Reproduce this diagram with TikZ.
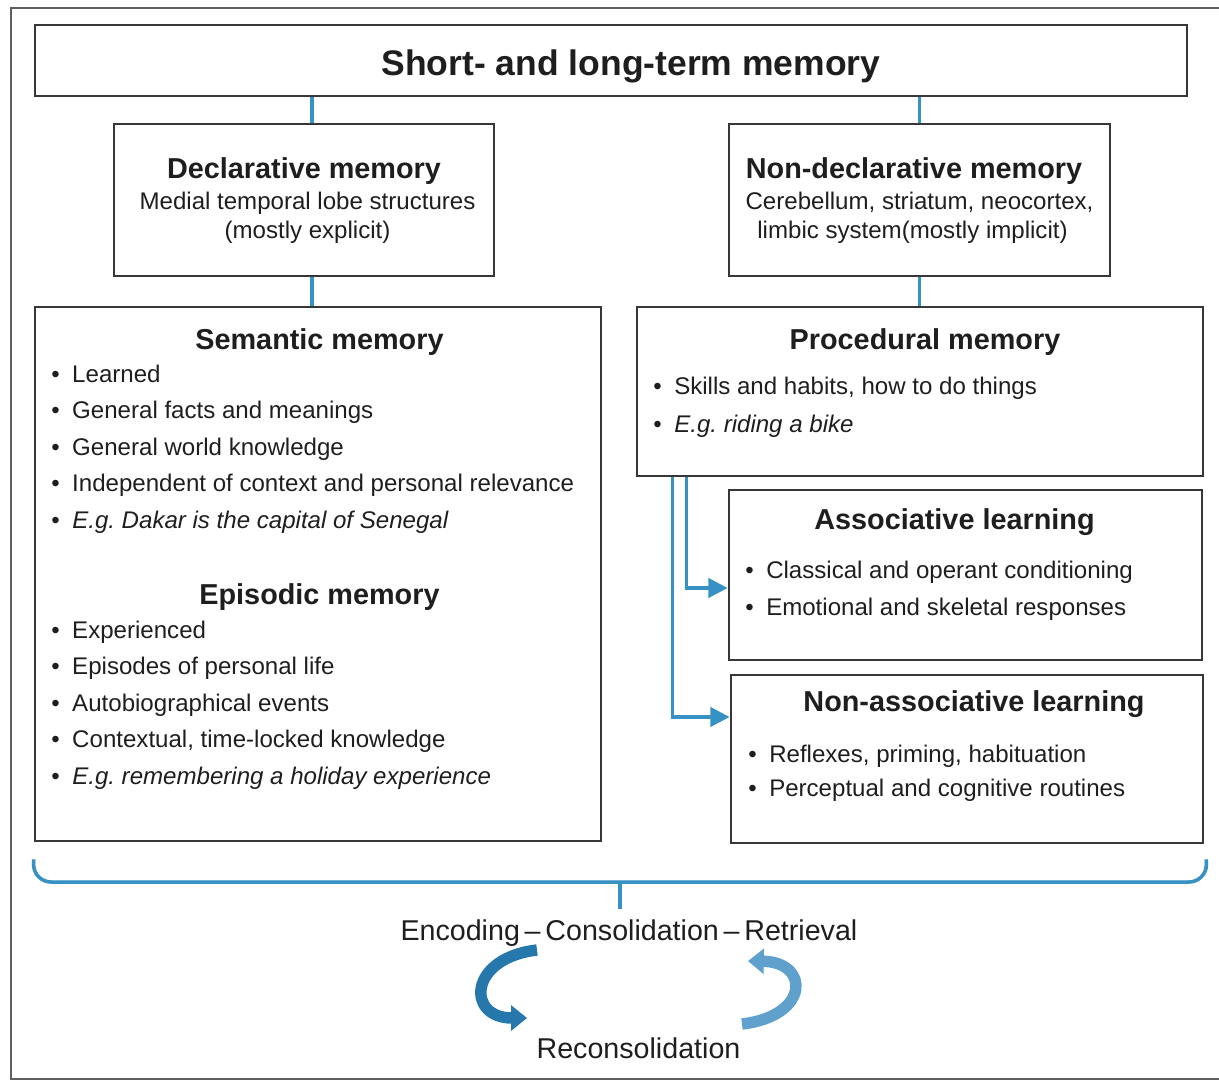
\documentclass[tikz,border=0pt]{standalone}
\usepackage{fontspec}
\setmainfont{Liberation Sans}
\usetikzlibrary{arrows.meta,calc,fit,positioning}

\definecolor{linkblue}{RGB}{54,146,196}
\definecolor{darkblue}{RGB}{38,120,172}
\definecolor{lightblue}{RGB}{96,160,205}
\definecolor{boxgray}{RGB}{55,55,55}
\definecolor{txt}{RGB}{30,30,30}

\newcommand\bul{\makebox[11.9pt][l]{\textbullet}}

\tikzset{
  box/.style={draw=boxgray, line width=1.6pt, inner sep=0pt},
  ttl/.style={anchor=base, inner sep=0pt, font=\bfseries\fontsize{20.2}{24}\selectfont},
  hd/.style={anchor=base, inner sep=0pt, font=\bfseries\fontsize{16.4}{20}\selectfont},
  bd/.style={anchor=base, inner sep=0pt, font=\fontsize{13.7}{16}\selectfont},
  itm/.style={anchor=base west, inner sep=0pt, font=\fontsize{13.7}{16}\selectfont},
  big/.style={anchor=base, inner sep=0pt, font=\fontsize{16.3}{20}\selectfont},
  link/.style={draw=linkblue, line width=2pt},
  flow/.style={draw=linkblue, line width=2pt, -{Triangle[length=11pt,width=11pt]}},
  brace/.style={draw=linkblue, line width=2pt, rounded corners=10pt},
  cyc/.style={line width=6.5pt, -{Triangle[length=9pt,width=14pt]}},
  outerframe/.style={draw=boxgray!80, line width=1.5pt}
}

\begin{document}
\begin{tikzpicture}[x=0.02cm, y=-0.02cm, every node/.style={text=txt}]
\useasboundingbox (0,0) rectangle (1219,1082);
\draw[outerframe] (1219,8) -| (11,1079) -- (1219,1079);

% boxes
\node[box, fit={(35,25) (1187,96)}] (top) {};
\node[box, fit={(114,124) (494,276)}] (dec) {};
\node[box, fit={(729,124) (1110,276)}] (ndec) {};
\node[box, fit={(35,307) (601,841)}] (sem) {};
\node[box, fit={(637,307) (1203,476)}] (proc) {};
\node[box, fit={(729,490) (1202,660)}] (assoc) {};
\node[box, fit={(731,675) (1203,843)}] (nassoc) {};

% texts
\node[ttl] (toptxt) at (631,75) {Short- and long-term memory};

\node[hd] (dechd) at (304,178) {Declarative memory};
\node[bd] (dec1) at (307.5,209) {Medial temporal lobe structures};
\node[bd] (dec2) at (307.5,238) {(mostly explicit)};

\node[hd] (ndechd) at (914,178) {Non-declarative memory};
\node[bd] (ndec1) at (919.5,209) {Cerebellum, striatum, neocortex,};
\node[bd] (ndec2) at (912.5,238) {limbic system(mostly implicit)};

\node[hd] (semhd) at (319.5,349) {Semantic memory};
\foreach \yy/\itemtext [count=\i] in {382/Learned, 418.5/General facts and meanings,
    455/General world knowledge, 491.5/Independent of context and personal relevance,
    528/{\itshape E.g.\ Dakar is the capital of Senegal}}
  \node[itm] (sem\i) at (51,\yy) {\bul\itemtext};

\node[hd] (epihd) at (319.5,604) {Episodic memory};
\foreach \yy/\itemtext [count=\i] in {638/Experienced, 674.5/Episodes of personal life,
    711/Autobiographical events, 747.5/{Contextual, time-locked knowledge},
    784/{\itshape E.g.\ remembering a holiday experience}}
  \node[itm] (epi\i) at (51,\yy) {\bul\itemtext};

\node[hd] (prochd) at (925,349) {Procedural memory};
\node[itm] (proc1) at (653,394) {\bul Skills and habits, how to do things};
\node[itm] (proc2) at (653,432) {\bul\itshape E.g.\ riding a bike};

\node[hd] (assochd) at (954.5,529) {Associative learning};
\node[itm] (assoc1) at (745,578) {\bul Classical and operant conditioning};
\node[itm] (assoc2) at (745,615) {\bul Emotional and skeletal responses};

\node[hd] (nassochd) at (974,711) {Non-associative learning};
\node[itm] (nassoc1) at (748,762) {\bul Reflexes, priming, habituation};
\node[itm] (nassoc2) at (748,796) {\bul Perceptual and cognitive routines};

\node[big] (enc) at (629,940) {Encoding\,–\,Consolidation\,–\,Retrieval};
\node[big] (recon) at (638.5,1058) {Reconsolidation};

% connectors
\draw[link] ($(top.south -| dec.north)+(8,0)$) -- ($(dec.north)+(8,0)$);
\draw[link] ($(dec.south)+(8,0)$) -- ($(sem.north -| dec.south)+(8,0)$);
\draw[link] (top.south -| ndec.north) -- (ndec.north);
\draw[link] (ndec.south) -- (proc.north -| ndec.south);

\draw[flow] ($(proc.south west)+(51,0)$) |- ($(assoc.west)+(0,13)$);
\draw[flow] ($(proc.south west)+(37,0)$) |- ($(nassoc.west)+(0,-42)$);

% bracket
\coordinate (bl) at ($(sem.south west)+(0,17)$);
\coordinate (br) at ($(nassoc.south east)+(2,15)$);
\coordinate (bm) at (620,882);
\draw[brace, draw=gray!30, yshift=-1.7pt] (bl) |- (bm) -| (br);
\draw[brace] (bl) |- (bm) -| (br);
\draw[link] (bm) -- ++(0,27);

% cycle arrows
\draw[cyc, darkblue] (537,950) .. controls (468,958) and (466,1018) .. (527,1018);
\draw[cyc, lightblue] (742,1024) .. controls (810,1016) and (810,962) .. (748,961);
\end{tikzpicture}
\end{document}
